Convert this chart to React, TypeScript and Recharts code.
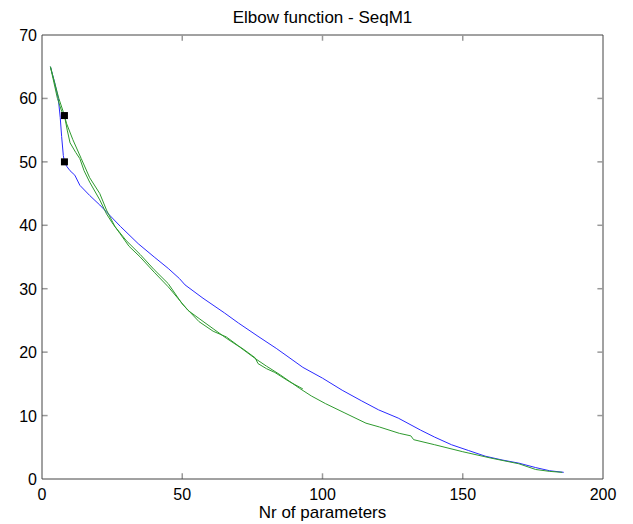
import React from "react";
import { ComposedChart, Line, Scatter, XAxis, YAxis, ReferenceLine } from "recharts";

// --- Series (x = nr of parameters, y = elbow value) ---
const blueLine = [
  { x: 3, y: 65 }, { x: 4.5, y: 62.5 }, { x: 5.8, y: 60 }, { x: 6.5, y: 57 },
  { x: 7, y: 54 }, { x: 7.6, y: 51 }, { x: 8, y: 50 }, { x: 8.8, y: 49.3 },
  { x: 10, y: 48.6 }, { x: 11.7, y: 47.9 }, { x: 13.5, y: 46.3 }, { x: 17, y: 44.7 },
  { x: 20.6, y: 43.2 }, { x: 23, y: 42.1 }, { x: 28, y: 39.8 }, { x: 34.3, y: 37.1 },
  { x: 40, y: 35 }, { x: 45, y: 33.2 }, { x: 49, y: 31.6 }, { x: 51, y: 30.6 },
  { x: 57.4, y: 28.5 }, { x: 65, y: 26.2 }, { x: 70, y: 24.6 }, { x: 77, y: 22.5 },
  { x: 83.5, y: 20.6 }, { x: 87, y: 19.5 }, { x: 93, y: 17.6 }, { x: 100, y: 15.9 },
  { x: 107, y: 14 }, { x: 114, y: 12.3 }, { x: 120, y: 10.9 }, { x: 127, y: 9.6 },
  { x: 135, y: 7.7 }, { x: 140, y: 6.6 }, { x: 146, y: 5.4 }, { x: 152, y: 4.5 },
  { x: 158, y: 3.6 }, { x: 164, y: 3.0 }, { x: 170, y: 2.5 }, { x: 176, y: 1.8 },
  { x: 181, y: 1.3 }, { x: 186, y: 1.05 },
];

const greenLongLine = [
  { x: 3, y: 65 }, { x: 5.5, y: 60 }, { x: 7, y: 58 }, { x: 8, y: 57.3 },
  { x: 9, y: 55 }, { x: 10, y: 53 }, { x: 12, y: 51.5 }, { x: 13.5, y: 50.5 },
  { x: 15, y: 48.6 }, { x: 17, y: 46.8 }, { x: 20.6, y: 44 }, { x: 23, y: 41.8 },
  { x: 25, y: 40.4 }, { x: 27.8, y: 38.7 }, { x: 31, y: 36.7 }, { x: 35, y: 35 },
  { x: 40, y: 32.6 }, { x: 45, y: 30.3 }, { x: 49, y: 28.2 }, { x: 52, y: 26.6 },
  { x: 56, y: 25.3 }, { x: 61, y: 23.7 }, { x: 65.7, y: 22.2 }, { x: 70.5, y: 20.8 },
  { x: 76, y: 19 }, { x: 80, y: 17.8 }, { x: 85, y: 16.4 }, { x: 91.8, y: 14.3 },
  { x: 96, y: 13.1 }, { x: 101, y: 11.9 }, { x: 108, y: 10.4 }, { x: 115.5, y: 8.8 },
  { x: 120.3, y: 8.2 }, { x: 127.4, y: 7.2 }, { x: 131.5, y: 6.8 }, { x: 132.5, y: 6.2 },
  { x: 140, y: 5.4 }, { x: 150, y: 4.3 }, { x: 160, y: 3.3 }, { x: 170, y: 2.4 },
  { x: 176, y: 1.5 }, { x: 181, y: 1.2 }, { x: 185.5, y: 1.05 },
];

const greenShortLine = [
  { x: 3, y: 65 }, { x: 6, y: 60 }, { x: 7.5, y: 58 }, { x: 8.8, y: 56 },
  { x: 11, y: 53.5 }, { x: 14, y: 50.5 }, { x: 17, y: 47.5 }, { x: 20.6, y: 45 },
  { x: 23, y: 42.4 }, { x: 26, y: 39.8 }, { x: 30, y: 37.6 }, { x: 35, y: 35.4 },
  { x: 40, y: 33 }, { x: 45, y: 30.8 }, { x: 50, y: 27.6 }, { x: 56, y: 24.8 },
  { x: 61, y: 23.3 }, { x: 65.7, y: 22.4 }, { x: 70, y: 21 }, { x: 72, y: 20.4 },
  { x: 76, y: 19.1 }, { x: 77, y: 18.2 }, { x: 80, y: 17.4 }, { x: 83, y: 16.8 },
  { x: 88, y: 15.4 }, { x: 93, y: 14.2 },
];

// elbow markers (black squares)
const elbowPoints = [
  { x: 8, y: 57.3 },
  { x: 8, y: 50 },
];

const xTicks = [0, 50, 100, 150, 200];
const yTicks = [0, 10, 20, 30, 40, 50, 60, 70];
const X_MIN = 0, X_MAX = 200, Y_MIN = 0, Y_MAX = 70;

const AXIS = "#444";
const TICKC = "#999";
const FONT = "Arial, 'Liberation Sans', sans-serif";
// inward tick length, in data units (~6px each way)
const TICK_DX = 2;
const TICK_DY = 0.9;

const BottomTick = ({ x, y, payload }: any) => (
  <text x={x} y={y + 21} textAnchor="middle" fontSize={16} fontFamily={FONT} fill="#000">
    {payload.value}
  </text>
);

const LeftTick = ({ x, y, payload }: any) => (
  <text x={x - 5} y={y + 6} textAnchor="end" fontSize={16} fontFamily={FONT} fill="#000">
    {payload.value}
  </text>
);

const Square = ({ cx, cy }: any) => (
  <rect x={cx - 3.5} y={cy - 3.5} width={7} height={7} fill="#000" />
);

export default function App() {
  const innerX = xTicks.filter((t) => t > X_MIN && t < X_MAX);
  const innerY = yTicks.filter((t) => t > Y_MIN && t < Y_MAX);

  return (
    <div
      style={{
        position: "relative",
        width: 633,
        height: 524,
        margin: "-8px 0 0 -8px",
        background: "#fff",
        fontFamily: FONT,
      }}
    >
      <div
        style={{
          position: "absolute",
          top: 9,
          left: 42,
          width: 561,
          textAlign: "center",
          fontSize: 17,
          lineHeight: "17px",
        }}
      >
        Elbow function - SeqM1
      </div>
      <ComposedChart
        width={633}
        height={524}
        margin={{ top: 35, right: 30, left: 0, bottom: 0 }}
      >
        <XAxis
          dataKey="x"
          type="number"
          domain={[X_MIN, X_MAX]}
          ticks={xTicks}
          height={45}
          tickSize={0}
          tickMargin={0}
          tickLine={false}
          axisLine={{ stroke: AXIS }}
          tick={<BottomTick />}
          interval={0}
        />
        <YAxis
          dataKey="y"
          type="number"
          domain={[Y_MIN, Y_MAX]}
          ticks={yTicks}
          width={42}
          tickSize={0}
          tickMargin={0}
          tickLine={false}
          axisLine={{ stroke: AXIS }}
          tick={<LeftTick />}
          interval={0}
        />
        {/* box: top and right edges */}
        <ReferenceLine y={Y_MAX} stroke={AXIS} ifOverflow="visible" />
        <ReferenceLine x={X_MAX} stroke={AXIS} ifOverflow="visible" />
        {/* inward ticks on all four sides */}
        {innerX.map((t) => (
          <ReferenceLine
            key={"xb" + t}
            segment={[{ x: t, y: Y_MIN }, { x: t, y: Y_MIN + TICK_DY }]}
            stroke={TICKC}
            strokeWidth={1.5}
          />
        ))}
        {innerX.map((t) => (
          <ReferenceLine
            key={"xt" + t}
            segment={[{ x: t, y: Y_MAX }, { x: t, y: Y_MAX - TICK_DY }]}
            stroke={TICKC}
            strokeWidth={1.5}
          />
        ))}
        {innerY.map((t) => (
          <ReferenceLine
            key={"yl" + t}
            segment={[{ x: X_MIN, y: t }, { x: X_MIN + TICK_DX, y: t }]}
            stroke={TICKC}
            strokeWidth={1.5}
          />
        ))}
        {innerY.map((t) => (
          <ReferenceLine
            key={"yr" + t}
            segment={[{ x: X_MAX, y: t }, { x: X_MAX - TICK_DX, y: t }]}
            stroke={TICKC}
            strokeWidth={1.5}
          />
        ))}
        <Line
          data={blueLine}
          dataKey="y"
          type="linear"
          stroke="#2a2aff"
          strokeWidth={1}
          dot={false}
          isAnimationActive={false}
        />
        <Line
          data={greenLongLine}
          dataKey="y"
          type="linear"
          stroke="#2e9a2e"
          strokeWidth={1}
          dot={false}
          isAnimationActive={false}
        />
        <Line
          data={greenShortLine}
          dataKey="y"
          type="linear"
          stroke="#2e9a2e"
          strokeWidth={1}
          dot={false}
          isAnimationActive={false}
        />
        <Scatter
          data={elbowPoints}
          dataKey="y"
          fill="#000"
          shape={<Square />}
          isAnimationActive={false}
        />
      </ComposedChart>
      <div
        style={{
          position: "absolute",
          top: 504,
          left: 42,
          width: 561,
          textAlign: "center",
          fontSize: 17,
          lineHeight: "17px",
        }}
      >
        Nr of parameters
      </div>
    </div>
  );
}
